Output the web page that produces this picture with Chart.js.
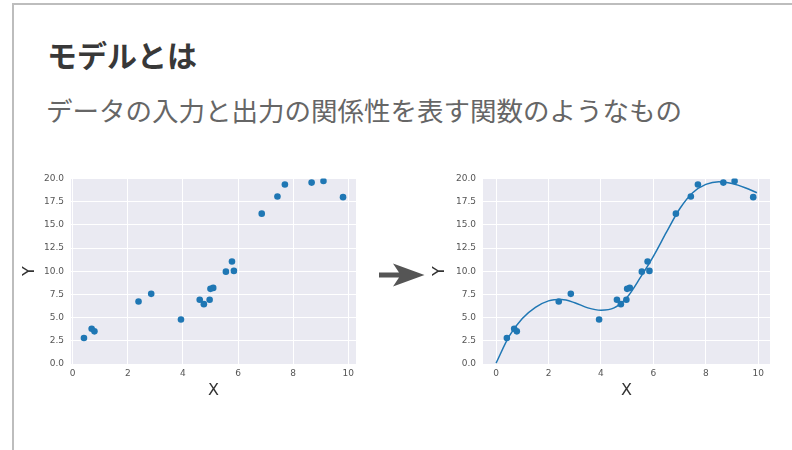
<!DOCTYPE html>
<html>
<head>
<meta charset="utf-8">
<script src="https://cdn.jsdelivr.net/npm/chart.js@4"></script>
<style>
  html, body { margin: 0; padding: 0; background: #fff; }
  body { width: 792px; height: 450px; position: relative; overflow: hidden; }
  .frame { position: absolute; left: 12px; top: 3px; width: 790px; height: 460px;
           border-left: 2px solid #bdbdbd; border-top: 2px solid #bdbdbd; }
  .title { position: absolute; left: 47px; top: 32px; font: bold 30px "Noto Sans CJK JP", sans-serif; color: #383838; white-space: nowrap; }
  .sub { position: absolute; left: 46px; top: 90px; font: 26.5px "Noto Sans CJK JP", sans-serif; color: #666; white-space: nowrap; }
  .box { position: absolute; }
  #wrapL { left: 20px; top: 166px; width: 345px; height: 234px; }
  #wrapR { left: 430px; top: 166px; width: 350px; height: 234px; }
  svg.arrow { position: absolute; left: 0; top: 0; }
</style>
</head>
<body>
<div class="frame"></div>
<div class="title">モデルとは</div>
<div class="sub">データの入力と出力の関係性を表す関数のようなもの</div>

<div class="box" id="wrapL"><canvas id="chartL"></canvas></div>
<div class="box" id="wrapR"><canvas id="chartR"></canvas></div>

<svg class="arrow" width="792" height="450">
  <polygon points="379,272.5 399,272.5 393,263.5 424.5,275 393,286.5 399,277.5 379,277.5" fill="#555"/>
</svg>

<script>
// --- DATOS ---
const puntosX = [0.41, 0.69, 0.79, 2.39, 2.85, 3.93, 4.61, 4.76, 4.97, 5.0, 5.1, 5.56, 5.78, 5.85, 6.86, 7.43, 7.7, 8.67, 9.1, 9.81];
const puntosY = [2.8, 3.8, 3.52, 6.74, 7.56, 4.8, 6.92, 6.45, 6.92, 8.1, 8.2, 9.95, 11.05, 10.03, 16.2, 18.05, 19.35, 19.55, 19.72, 17.98];

const curvaX = [0, 0.5, 1.0, 1.5, 2.0, 2.5, 3.0, 3.5, 4.0, 4.5, 5.0, 5.5, 6.0, 6.5, 7.0, 7.5, 8.0, 8.5, 9.0, 9.5, 9.95];
const curvaY = [0.1, 3.0, 4.9, 6.1, 6.8, 6.95, 6.6, 6.05, 5.8, 6.05, 7.2, 9.3, 11.6, 14.2, 16.7, 18.45, 19.35, 19.65, 19.45, 19.0, 18.45];

const ticksX = [0, 2, 4, 6, 8, 10];
const ticksY = [0, 2.5, 5, 7.5, 10, 12.5, 15, 17.5, 20];

const AZUL = "#1f77b4";
const FONDO = "#eaeaf2";

// --- helpers ---
const aPares = (xs, ys) => xs.map((x, i) => ({ x, y: ys[i] }));

const fondoPlot = {
  id: "fondoPlot",
  beforeDraw(chart) {
    const a = chart.chartArea, ctx = chart.ctx;
    ctx.save();
    ctx.fillStyle = FONDO;
    ctx.fillRect(a.left, a.top, a.right - a.left, a.bottom - a.top);
    ctx.restore();
  }
};

function opciones(xMin, xMax, anchoY, padDer) {
  return {
    responsive: false,
    animation: false,
    layout: { padding: { top: 0, right: padDer, left: 0, bottom: 0 } },
    plugins: { legend: { display: false }, tooltip: { enabled: false } },
    scales: {
      x: {
        type: "linear", min: xMin, max: xMax,
        afterBuildTicks: s => { s.ticks = ticksX.map(v => ({ value: v })); },
        afterFit: s => { s.height = 36; },
        grid: { color: "#ffffff", lineWidth: 1, drawTicks: false },
        border: { display: false },
        ticks: { color: "#555", padding: 4, font: { family: "DejaVu Sans", size: 9 } },
        title: { display: true, text: "X", color: "#333", padding: { top: 0, bottom: 0 },
                 font: { family: "DejaVu Sans", size: 16 } }
      },
      y: {
        type: "linear", min: 0, max: 20,
        afterBuildTicks: s => { s.ticks = ticksY.map(v => ({ value: v })); },
        afterFit: s => { s.width = anchoY; },
        grid: { color: "#ffffff", lineWidth: 1, drawTicks: false },
        border: { display: false },
        ticks: { color: "#555", padding: 7, font: { family: "DejaVu Sans", size: 9 },
                 callback: v => Number(v).toFixed(1) },
        title: { display: true, text: "Y", color: "#333", padding: { top: 0, bottom: 0 },
                 font: { family: "DejaVu Sans", size: 16 } }
      }
    }
  };
}

function crear(id, ancho, alto, datasets, opts) {
  const cv = document.getElementById(id);
  cv.width = ancho; cv.height = alto;
  cv.style.width = ancho + "px"; cv.style.height = alto + "px";
  return new Chart(cv.getContext("2d"), { type: "scatter", data: { datasets }, options: opts, plugins: [fondoPlot] });
}

const puntosDS = {
  data: aPares(puntosX, puntosY),
  backgroundColor: AZUL, borderColor: AZUL, borderWidth: 0,
  pointRadius: 3.3, pointStyle: "circle", showLine: false
};

crear("chartL", 345, 234, [puntosDS], opciones(-0.06, 10.28, 51, 9));

crear("chartR", 350, 234, [
  {
    data: aPares(curvaX, curvaY),
    showLine: true, borderColor: AZUL, borderWidth: 1.5, tension: 0.4,
    pointRadius: 0, fill: false, cubicInterpolationMode: "monotone"
  },
  Object.assign({}, puntosDS, { data: aPares(puntosX, puntosY) })
], opciones(-0.5, 10.45, 53, 10));
</script>
</body>
</html>
